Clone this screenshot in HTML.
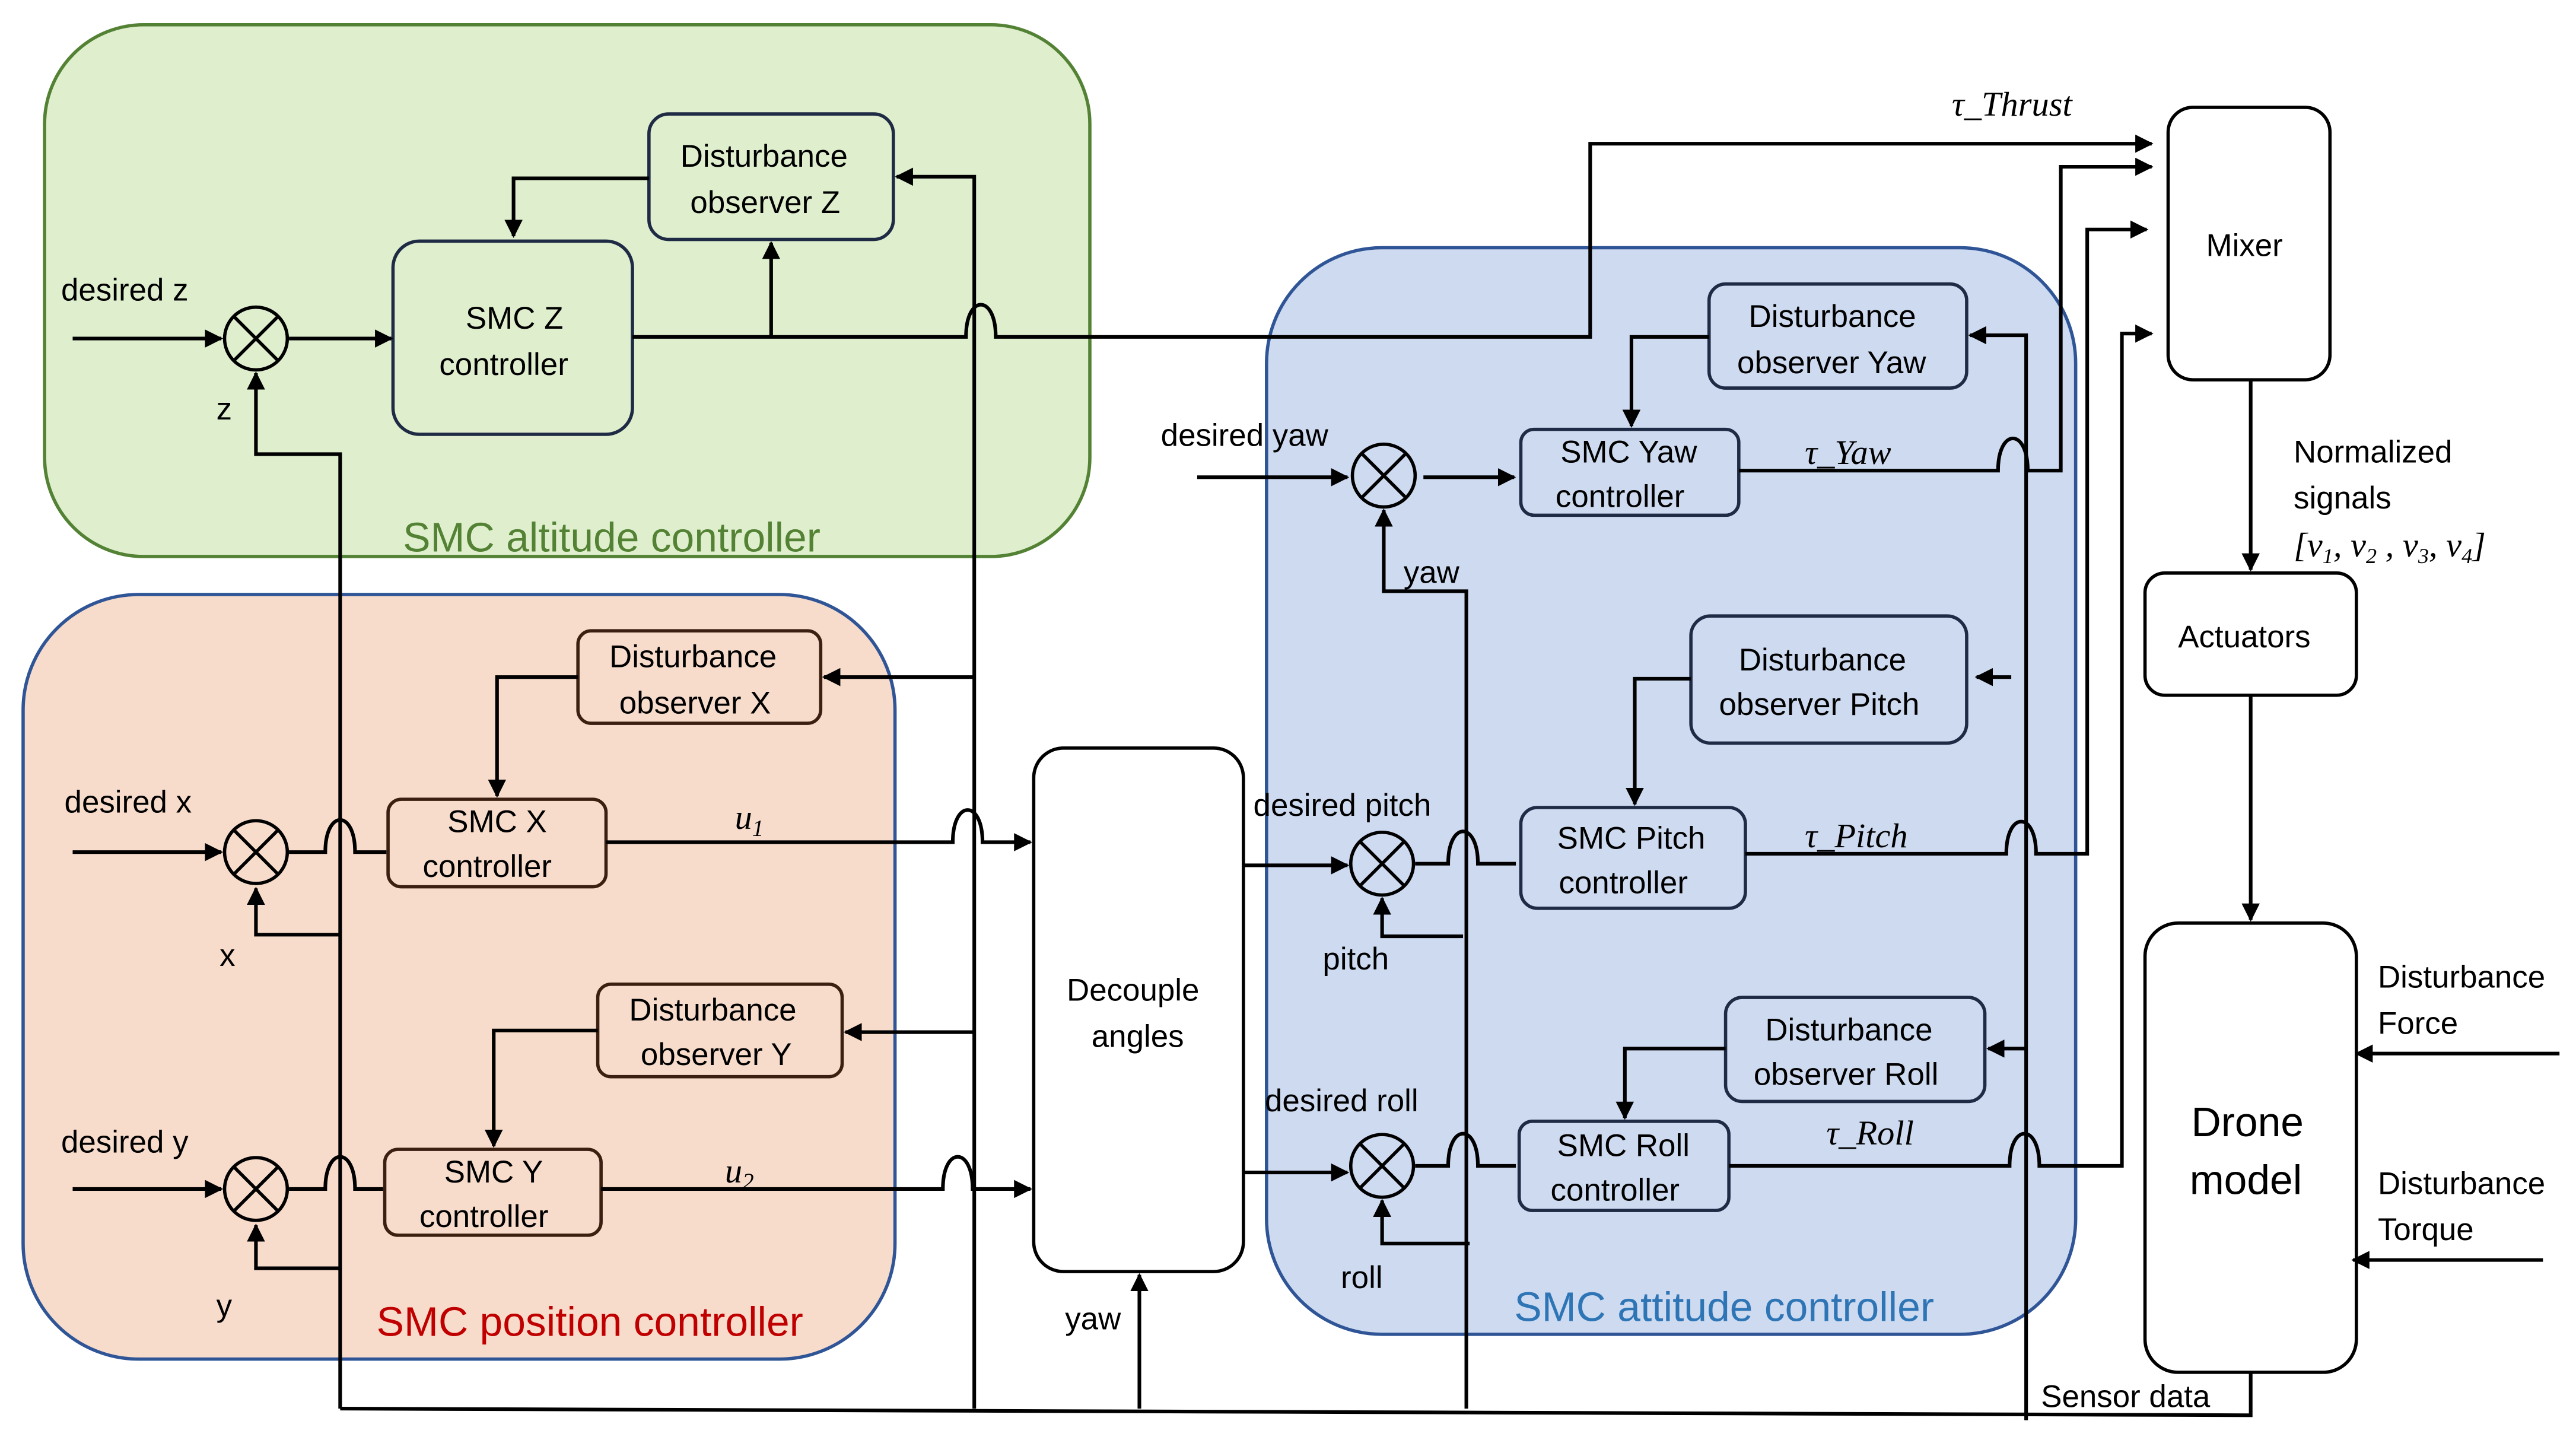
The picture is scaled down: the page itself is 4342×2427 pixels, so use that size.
<!DOCTYPE html>
<html><head><meta charset="utf-8"><style>
html,body{margin:0;padding:0;background:#fff}
svg{display:block}
text{font-family:"Liberation Sans",sans-serif;font-size:19px;fill:#000}
.it{font-family:"Liberation Serif",serif;font-style:italic;font-size:21px}
</style></head><body>
<svg width="4342" height="2427" viewBox="0 0 1560 872" preserveAspectRatio="none" xmlns="http://www.w3.org/2000/svg">
<defs><marker id="a" viewBox="0 0 10 10" refX="9" refY="5" markerWidth="5" markerHeight="5" orient="auto"><path d="M0,0L10,5L0,10z" fill="#000"/></marker></defs>
<rect x="27" y="15" width="633" height="322" rx="60" fill="#dfefce" stroke="#548235" stroke-width="2"/>
<rect x="14" y="360" width="528" height="463" rx="70" fill="#f8dccb" stroke="#2f5597" stroke-width="2"/>
<rect x="767" y="150" width="490" height="658" rx="70" fill="#cddaf0" stroke="#2f5597" stroke-width="2"/>
<text x="244" y="334" style="font-size:25px;fill:#548235">SMC altitude controller</text>
<text x="228" y="809" style="font-size:25px;fill:#c00000">SMC position controller</text>
<text x="917" y="800" style="font-size:25px;fill:#2e75b6">SMC attitude controller</text>
<g fill="none" stroke="#1f2a44" stroke-width="2">
<rect x="393" y="69" width="148" height="76" rx="12"/>
<rect x="238" y="146" width="145" height="117" rx="16"/>
<rect x="921" y="260" width="132" height="52" rx="8"/>
<rect x="1035" y="172" width="156" height="63" rx="10"/>
<rect x="921" y="489" width="136" height="61" rx="10"/>
<rect x="1024" y="373" width="167" height="77" rx="12"/>
<rect x="920" y="679" width="127" height="54" rx="8"/>
<rect x="1045" y="604" width="157" height="63" rx="10"/>
</g>
<g fill="none" stroke="#3b1f10" stroke-width="2">
<rect x="350" y="382" width="147" height="56" rx="8"/>
<rect x="235" y="484" width="132" height="53" rx="8"/>
<rect x="362" y="596" width="148" height="56" rx="8"/>
<rect x="233" y="696" width="131" height="52" rx="8"/>
</g>
<g fill="#fff" stroke="#000" stroke-width="2">
<rect x="626" y="453" width="127" height="317" rx="18"/>
<rect x="1313" y="65" width="98" height="165" rx="15"/>
<rect x="1299" y="347" width="128" height="74" rx="12"/>
<rect x="1299" y="559" width="128" height="272" rx="20"/>
</g>
<g fill="none" stroke="#000" stroke-width="2">
<circle cx="155" cy="205" r="19"/><path d="M142,192L168,218M168,192L142,218"/>
<circle cx="155" cy="516" r="19"/><path d="M142,503L168,529M168,503L142,529"/>
<circle cx="155" cy="720" r="19"/><path d="M142,707L168,733M168,707L142,733"/>
<circle cx="838" cy="288" r="19"/><path d="M825,275L851,301M851,275L825,301"/>
<circle cx="837" cy="523" r="19"/><path d="M824,510L850,536M850,510L824,536"/>
<circle cx="837" cy="706" r="19"/><path d="M824,693L850,719M850,693L824,719"/>
</g>
<g fill="none" stroke="#000" stroke-width="2.2">
<path d="M44,205H134" marker-end="url(#a)"/>
<path d="M175,205H237" marker-end="url(#a)"/>
<path d="M467,204V147" marker-end="url(#a)"/>
<path d="M383,204H585c0,-26 18,-26 18,0H963V87H1303" marker-end="url(#a)"/>
<path d="M393,108H311V143" marker-end="url(#a)"/>
<path d="M590,853V107H543" marker-end="url(#a)"/>
<path d="M590,410H499" marker-end="url(#a)"/>
<path d="M590,625H512" marker-end="url(#a)"/>
<path d="M206,853V275H155V226" marker-end="url(#a)"/>
<path d="M206,566H155V538" marker-end="url(#a)"/>
<path d="M206,768H155V742" marker-end="url(#a)"/>
<path d="M44,516H134" marker-end="url(#a)"/>
<path d="M44,720H134" marker-end="url(#a)"/>
<path d="M175,516H197c0,-26 18,-26 18,0H234"/>
<path d="M175,720H197c0,-26 18,-26 18,0H232"/>
<path d="M350,410H301V482" marker-end="url(#a)"/>
<path d="M362,624H299V694" marker-end="url(#a)"/>
<path d="M367,510H577c0,-26 18,-26 18,0H624" marker-end="url(#a)"/>
<path d="M364,720H571c0,-26 18,-26 18,0H624" marker-end="url(#a)"/>
<path d="M690,853V772" marker-end="url(#a)"/>
<path d="M753,524H816" marker-end="url(#a)"/>
<path d="M753,710H816" marker-end="url(#a)"/>
<path d="M725,289H816" marker-end="url(#a)"/>
<path d="M862,289H917" marker-end="url(#a)"/>
<path d="M1035,204H988V258" marker-end="url(#a)"/>
<path d="M1053,285H1210c0,-26 18,-26 18,0H1248V101H1303" marker-end="url(#a)"/>
<path d="M888,853V358H838V309" marker-end="url(#a)"/>
<path d="M857,523H877c0,-26 18,-26 18,0H918"/>
<path d="M1024,411H990V487" marker-end="url(#a)"/>
<path d="M886,567H837V544" marker-end="url(#a)"/>
<path d="M1057,517H1215c0,-26 18,-26 18,0H1264V139H1300" marker-end="url(#a)"/>
<path d="M857,706H877c0,-26 18,-26 18,0H918"/>
<path d="M1045,635H984V677" marker-end="url(#a)"/>
<path d="M890,753H837V727" marker-end="url(#a)"/>
<path d="M1047,706H1217c0,-26 18,-26 18,0H1285V202H1303" marker-end="url(#a)"/>
<path d="M1227,860V203H1193" marker-end="url(#a)"/>
<path d="M1218,410H1197" marker-end="url(#a)"/>
<path d="M1227,635H1204" marker-end="url(#a)"/>
<path d="M1363,230V345" marker-end="url(#a)"/>
<path d="M1363,421V557" marker-end="url(#a)"/>
<path d="M1550,638H1427" marker-end="url(#a)"/>
<path d="M1540,763H1425" marker-end="url(#a)"/>
<path d="M1363,831V857L206,853"/>
</g>
<text x="412" y="101">Disturbance</text><text x="418" y="129">observer Z</text>
<text x="282" y="199">SMC Z</text><text x="266" y="227">controller</text>
<text x="37" y="182">desired z</text><text x="131" y="254">z</text>
<text x="369" y="404">Disturbance</text><text x="375" y="432">observer X</text>
<text x="271" y="504">SMC X</text><text x="256" y="531">controller</text>
<text x="381" y="618">Disturbance</text><text x="388" y="645">observer Y</text>
<text x="269" y="716">SMC Y</text><text x="254" y="743">controller</text>
<text x="39" y="492">desired x</text><text x="133" y="585">x</text>
<text x="37" y="698">desired y</text><text x="131" y="797">y</text>
<text x="445" y="502" class="it">u<tspan style="font-size:14px" dy="4">1</tspan></text>
<text x="439" y="716" class="it">u<tspan style="font-size:14px" dy="4">2</tspan></text>
<text x="646" y="606">Decouple</text><text x="661" y="634">angles</text>
<text x="645" y="805">yaw</text>
<text x="703" y="270">desired yaw</text>
<text x="945" y="280">SMC Yaw</text><text x="942" y="307">controller</text>
<text x="1059" y="198">Disturbance</text><text x="1052" y="226">observer Yaw</text>
<text x="850" y="353">yaw</text>
<text x="1093" y="281" class="it">τ_Yaw</text>
<text x="759" y="494">desired pitch</text>
<text x="943" y="514">SMC Pitch</text><text x="944" y="541">controller</text>
<text x="1053" y="406">Disturbance</text><text x="1041" y="433">observer Pitch</text>
<text x="801" y="587">pitch</text>
<text x="1093" y="513" class="it">τ_Pitch</text>
<text x="766" y="673">desired roll</text>
<text x="943" y="700">SMC Roll</text><text x="939" y="727">controller</text>
<text x="1069" y="630">Disturbance</text><text x="1062" y="657">observer Roll</text>
<text x="812" y="780">roll</text>
<text x="1106" y="693" class="it">τ_Roll</text>
<text x="1182" y="70" class="it">τ_Thrust</text>
<text x="1336" y="155">Mixer</text>
<text x="1319" y="392">Actuators</text>
<text x="1327" y="688" style="font-size:25px">Drone</text><text x="1326" y="723" style="font-size:25px">model</text>
<text x="1389" y="280">Normalized</text><text x="1389" y="308">signals</text>
<text x="1389" y="337" class="it">[v<tspan style="font-size:13px" dy="4">1</tspan><tspan dy="-4">, v</tspan><tspan style="font-size:13px" dy="4">2</tspan><tspan dy="-4"> , v</tspan><tspan style="font-size:13px" dy="4">3</tspan><tspan dy="-4">, v</tspan><tspan style="font-size:13px" dy="4">4</tspan><tspan dy="-4">]</tspan></text>
<text x="1440" y="598">Disturbance</text><text x="1440" y="626">Force</text>
<text x="1440" y="723">Disturbance</text><text x="1440" y="751">Torque</text>
<text x="1236" y="852">Sensor data</text>
</svg>
</body></html>
